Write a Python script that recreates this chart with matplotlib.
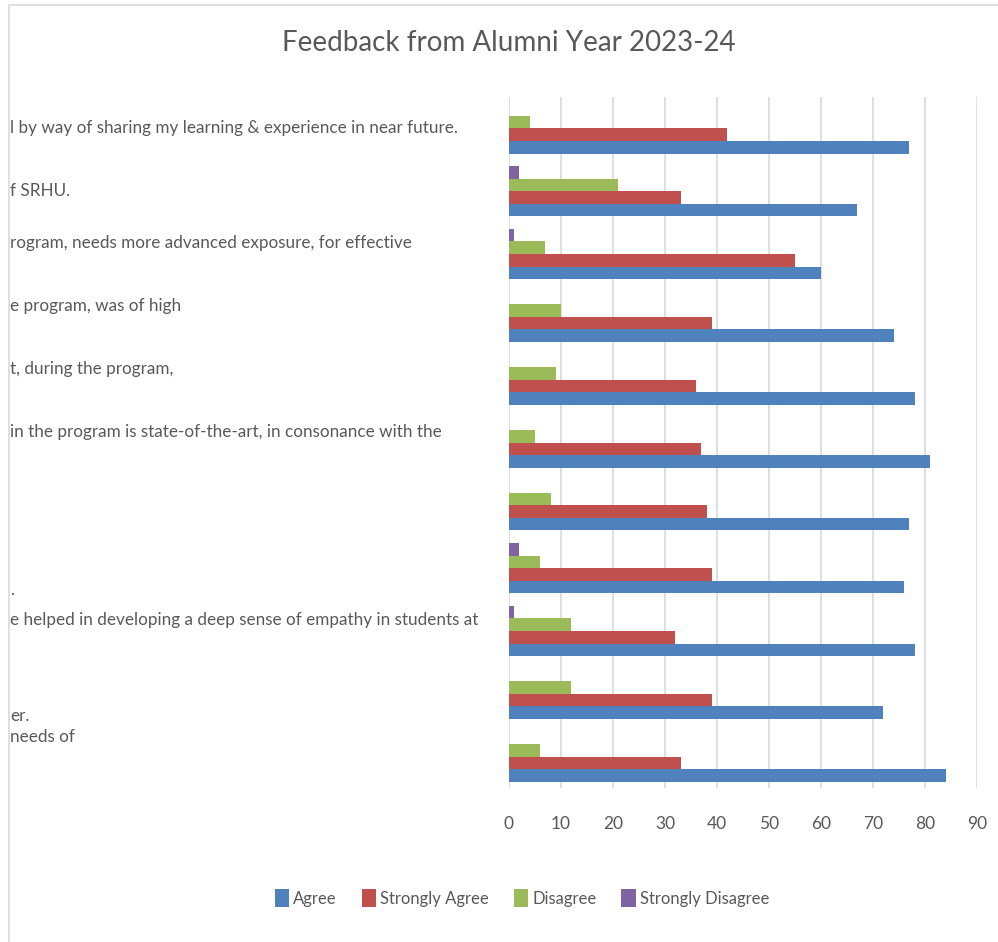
import matplotlib
matplotlib.use("Agg")
import matplotlib.pyplot as plt
import matplotlib.transforms as mtransforms
from matplotlib.patches import Rectangle
import numpy as np

plt.rcParams['font.family'] = ['Lato', 'DejaVu Sans']

title = "Feedback from Alumni Year 2023-24"

# one value per statement, top to bottom
agree = [77, 67, 60, 74, 78, 81, 77, 76, 78, 72, 84]
strongly_agree = [42, 33, 55, 39, 36, 37, 38, 39, 32, 39, 33]
disagree = [4, 21, 7, 10, 9, 5, 8, 6, 12, 12, 6]
strongly_disagree = [0, 2, 1, 0, 0, 0, 0, 2, 1, 0, 0]

series_names = ["Agree", "Strongly Agree", "Disagree", "Strongly Disagree"]
series_colors = ["#4F81BD", "#C0504D", "#9BBB59", "#8064A2"]

# statement labels, cut off at the left edge of the picture (only visible parts kept)
category_labels = [
    "l by way of sharing my learning & experience in near future.",
    "f SRHU.",
    "rogram, needs more advanced exposure, for effective\n",
    "e program, was of high\n",
    "t, during the program,\n",
    "in the program is state-of-the-art, in consonance with the\n",
    "",
    "\n\n.",
    "e helped in developing a deep sense of empathy in students at\n",
    "\n\n\ner.\nneeds of",
    "",
]

xticks = list(range(0, 100, 10))

text_color = "#595959"
grid_color = "#D9D9D9"

fig = plt.figure(figsize=(9.98, 9.42), dpi=100)
ax = fig.add_axes([509 / 998, 1 - 788 / 942, 468 / 998, 691 / 942])

y = np.arange(len(agree))
h = 0.2
series = [agree, strongly_agree, disagree, strongly_disagree]
offsets = [1.5, 0.5, -0.5, -1.5]
for vals, off, color, name in zip(series, offsets, series_colors, series_names):
    ax.barh(y + off * h, vals, height=h, color=color, label=name)

ax.set_ylim(len(agree) - 0.5, -0.5)
ax.set_xlim(0, 90)
ax.set_xticks(xticks)
ax.set_yticks([])
ax.grid(axis='x', color=grid_color, lw=1.2)
ax.set_axisbelow(True)
for s in ax.spines.values():
    s.set_visible(False)
ax.tick_params(axis='x', length=0, pad=20, labelsize=12.5, labelcolor=text_color)

# category labels, x in figure pixels, y on the category axis
trans = mtransforms.blended_transform_factory(fig.transFigure, ax.transData)
for i, lab in enumerate(category_labels):
    if lab:
        ax.text(10 / 998, i, lab, transform=trans, ha='left', va='center',
                fontsize=12.3, color=text_color, linespacing=1.45)

fig.text(509 / 998, 1 - 43 / 942, title, ha='center', va='center',
         fontsize=20, color=text_color)

fig.legend(loc='center', bbox_to_anchor=(522 / 998, 1 - 898 / 942), ncol=4,
           frameon=False, fontsize=12, labelcolor=text_color,
           handlelength=0.85, handleheight=1.3, handletextpad=0.25,
           columnspacing=1.5)

# chart frame, mostly cropped away
fig.add_artist(Rectangle((9 / 998, -0.1), 1.0, 1 - 5 / 942 + 0.1,
                         transform=fig.transFigure, fill=False,
                         edgecolor=grid_color, lw=1.2))

fig.savefig("out.png", dpi=100)
